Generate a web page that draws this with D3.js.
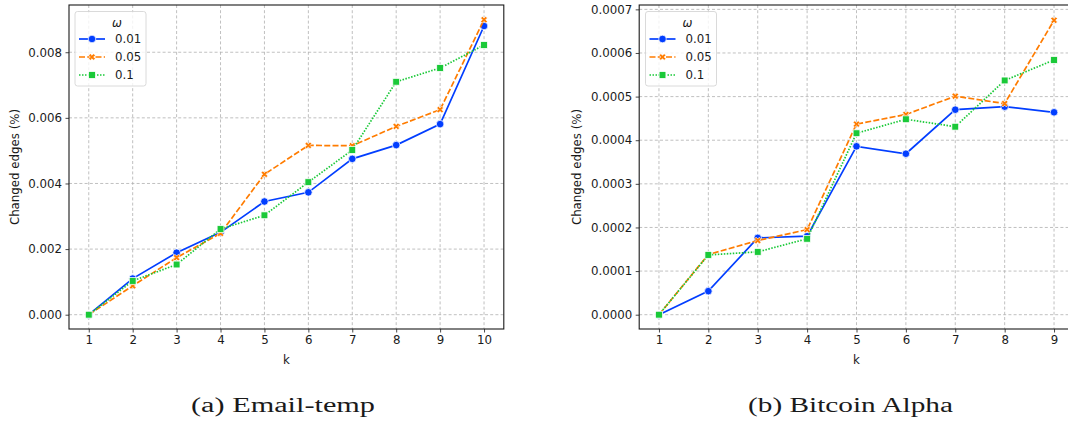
<!DOCTYPE html>
<html><head><meta charset="utf-8">
<script src="https://cdn.jsdelivr.net/npm/d3@7"></script>
<style>body{margin:0;background:#fff}svg{display:block}</style>
</head><body>
<svg id="c" width="1068" height="423"></svg>
<script>
// ---- data ----
const kEmail = [1,2,3,4,5,6,7,8,9,10];
const kBitcoin = [1,2,3,4,5,6,7,8,9];
const omegaLabels = ["0.01","0.05","0.1"];
const emailW001 = [0, 0.00110, 0.00189, 0.00251, 0.00345, 0.00373, 0.00475, 0.00517, 0.00581, 0.00880];
const emailW005 = [0, 0.00088, 0.00174, 0.00248, 0.00428, 0.00516, 0.00515, 0.00574, 0.00625, 0.00899];
const emailW01  = [0, 0.00103, 0.00153, 0.00261, 0.00303, 0.00404, 0.00502, 0.00710, 0.00752, 0.00822];
const btcW001 = [0, 0.0000540, 0.000176, 0.000180, 0.000386, 0.000369, 0.000470, 0.000477, 0.000464];
const btcW005 = [0, 0.000138, 0.000170, 0.000195, 0.000437, 0.000459, 0.000501, 0.000484, 0.000675];
const btcW01  = [0, 0.000137, 0.000144, 0.000174, 0.000416, 0.000448, 0.000431, 0.000537, 0.000584];
const emailTicks = [0, 0.002, 0.004, 0.006, 0.008];
const btcTicks = [0, 0.0001, 0.0002, 0.0003, 0.0004, 0.0005, 0.0006, 0.0007];
const captions = ["(a) Email-temp", "(b) Bitcoin Alpha"];

const colors = ["#023eff", "#ff7c00", "#1ac938"];
const dashes = [null, "6,2.25", "1.5,1.5"];
const markers = ["circle", "x", "square"];

const svg = d3.select("#c");
const FONT = "DejaVu Sans, sans-serif";

function drawMarker(g, type, cx, cy, color) {
  if (type === "circle") {
    g.append("circle").attr("cx", cx).attr("cy", cy).attr("r", 3.8)
      .attr("fill", color).attr("stroke", "#fff").attr("stroke-width", 0.75);
  } else if (type === "square") {
    g.append("rect").attr("x", cx - 3.4).attr("y", cy - 3.4).attr("width", 6.8).attr("height", 6.8)
      .attr("fill", color).attr("stroke", "#fff").attr("stroke-width", 0.75);
  } else {
    const s = d3.symbol().type(d3.symbolCross).size(28)();
    g.append("path").attr("d", s).attr("transform", `translate(${cx},${cy}) rotate(45)`)
      .attr("fill", color).attr("stroke", "#fff").attr("stroke-width", 0.6);
  }
}

function panel(opts) {
  const {x0, x1, ks, series, yDomain, yTicks, fmt, legendX, caption, capX, capW} = opts;
  const top = 5, bottom = 329;
  const n = ks.length;
  const x = d3.scaleLinear().domain([1 - 0.05*(n-1), n + 0.05*(n-1)]).range([x0, x1]);
  const y = d3.scaleLinear().domain(yDomain).range([bottom, top]);
  const g = svg.append("g");

  // grid
  g.append("g").selectAll("line.gx").data(ks).join("line")
    .attr("x1", d => x(d)).attr("x2", d => x(d)).attr("y1", top).attr("y2", bottom)
    .attr("stroke", "#b0b0b0").attr("stroke-width", 0.8).attr("stroke-dasharray", "3,2.2");
  g.append("g").selectAll("line.gy").data(yTicks).join("line")
    .attr("x1", x0).attr("x2", x1).attr("y1", d => y(d)).attr("y2", d => y(d))
    .attr("stroke", "#b0b0b0").attr("stroke-width", 0.8).attr("stroke-dasharray", "3,2.2");

  // axes
  const xa = g.append("g").attr("transform", `translate(0,${bottom})`)
    .call(d3.axisBottom(x).tickValues(ks).tickFormat(d3.format("d")).tickSize(3.5).tickPadding(3.5).tickSizeOuter(0));
  const ya = g.append("g").attr("transform", `translate(${x0},0)`)
    .call(d3.axisLeft(y).tickValues(yTicks).tickFormat(fmt).tickSize(3.5).tickPadding(3.5).tickSizeOuter(0));
  [xa, ya].forEach(a => {
    a.select(".domain").remove();
    a.selectAll("text").attr("font-family", FONT).attr("font-size", 11.8).attr("fill", "#1a1a1a");
    a.selectAll("line").attr("stroke", "#1a1a1a").attr("stroke-width", 0.8);
  });

  // frame
  g.append("rect").attr("x", x0).attr("y", top).attr("width", x1 - x0).attr("height", bottom - top)
    .attr("fill", "none").attr("stroke", "#1a1a1a").attr("stroke-width", 1.1);

  // labels
  g.append("text").attr("x", (x0 + x1) / 2).attr("y", 364).attr("text-anchor", "middle")
    .attr("font-family", FONT).attr("font-size", 11.8).attr("fill", "#1a1a1a").text("k");
  g.append("text").attr("transform", `translate(${opts.ylabX},${(top + bottom) / 2}) rotate(-90)`)
    .attr("text-anchor", "middle").attr("font-family", FONT).attr("font-size", 11.8).attr("fill", "#1a1a1a")
    .text("Changed edges (%)");

  // lines
  const line = d3.line().x((d, i) => x(ks[i])).y(d => y(d));
  series.forEach((s, si) => {
    const sg = g.append("g");
    sg.append("path").datum(s).attr("d", line).attr("fill", "none")
      .attr("stroke", colors[si]).attr("stroke-width", 1.7)
      .attr("stroke-dasharray", dashes[si]);
    s.forEach((v, i) => drawMarker(sg, markers[si], x(ks[i]), y(v), colors[si]));
  });

  // legend
  const lg = g.append("g");
  lg.append("rect").attr("x", legendX).attr("y", 11.5).attr("width", 71).attr("height", 74.5)
    .attr("rx", 2.5).attr("fill", "#fff").attr("fill-opacity", 0.8).attr("stroke", "#d0d0d0").attr("stroke-width", 0.8);
  lg.append("text").attr("x", legendX + 42).attr("y", 26.5).attr("text-anchor", "middle")
    .attr("font-family", FONT).attr("font-style", "italic").attr("font-size", 11.8).attr("fill", "#1a1a1a").text("ω");
  omegaLabels.forEach((lab, i) => {
    const yy = 39 + i * 18;
    lg.append("line").attr("x1", legendX + 4).attr("x2", legendX + 30).attr("y1", yy).attr("y2", yy)
      .attr("stroke", colors[i]).attr("stroke-width", 1.7).attr("stroke-dasharray", dashes[i]);
    drawMarker(lg, markers[i], legendX + 17, yy, colors[i]);
    lg.append("text").attr("x", legendX + 40).attr("y", yy + 4.2)
      .attr("font-family", FONT).attr("font-size", 11.8).attr("fill", "#1a1a1a").text(lab);
  });

  // caption
  svg.append("text").attr("x", capX).attr("y", 412).attr("font-family", "Liberation Serif, serif")
    .attr("font-size", 20.5).attr("fill", "#1a1a1a").attr("textLength", capW).attr("lengthAdjust", "spacingAndGlyphs")
    .text(caption);
}

panel({x0: 69, x1: 503.8, ks: kEmail, series: [emailW001, emailW005, emailW01],
  yDomain: [-0.000436, 0.00944], yTicks: emailTicks, fmt: d3.format(".3f"),
  legendX: 75, ylabX: 19, caption: captions[0], capX: 191, capW: 184});
panel({x0: 639.2, x1: 1073.8, ks: kBitcoin, series: [btcW001, btcW005, btcW01],
  yDomain: [-0.0000328, 0.00071], yTicks: btcTicks, fmt: d3.format(".4f"),
  legendX: 645.5, ylabX: 581, caption: captions[1], capX: 748, capW: 205});
</script>
</body></html>
